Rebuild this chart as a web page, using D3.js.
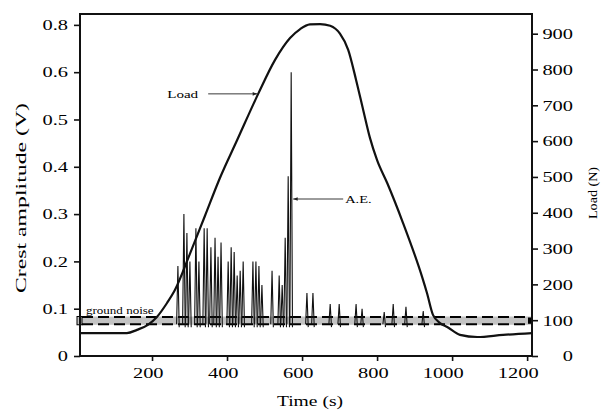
<!DOCTYPE html>
<html>
<head>
<meta charset="utf-8">
<script src="https://cdn.jsdelivr.net/npm/d3@7"></script>
<style>
body { margin: 0; background: #fff; }
svg text { font-family: "Liberation Serif", "Times New Roman", serif; fill: #000; }
</style>
</head>
<body>
<svg id="chart" width="609" height="412"></svg>
<script>
// load curve : time (s) -> load (N)
let loadTime  = [8, 133, 160, 189, 213, 240, 261, 301, 341, 381, 427, 483, 528, 568, 595, 621, 648, 675, 701, 723, 744, 763, 781, 800, 827, 869, 920, 933, 949, 968, 987, 1021, 1067, 1136, 1213]
let loadValue = [64, 64, 73, 87, 109, 148, 184, 285, 391, 497, 603, 732, 827, 888, 913, 926, 927, 922, 900, 855, 771, 687, 609, 547, 483, 372, 221, 176, 115, 92, 81, 59, 53, 59, 64]

// acoustic emission hits : time (s) -> crest amplitude (V)
let aeTime = [269, 285, 293, 301, 317, 325, 339, 347, 357, 368, 376, 384, 403, 411, 419, 427, 435, 443, 469, 477, 485, 493, 520, 539, 547, 555, 563, 571, 613, 629, 675, 699, 744, 760, 819, 843, 877, 923]
let aeAmp  = [0.19, 0.30, 0.26, 0.20, 0.27, 0.20, 0.27, 0.27, 0.23, 0.25, 0.21, 0.24, 0.20, 0.23, 0.22, 0.17, 0.18, 0.20, 0.20, 0.20, 0.19, 0.15, 0.18, 0.17, 0.15, 0.25, 0.38, 0.60, 0.133, 0.133, 0.11, 0.11, 0.11, 0.10, 0.093, 0.11, 0.104, 0.095]

// ground noise band (V)
let noiseBand = [0.066, 0.0835]
let noiseLines = [0.067, 0.0825]

let timeTicks = [200, 400, 600, 800, 1000, 1200]
let ampTicks  = [0, 0.1, 0.2, 0.3, 0.4, 0.5, 0.6, 0.7]
let ampLabels = ['0', '0.1', '0.2', '0.3', '0.4', '0.5', '0.6', '0.8']
let loadTicks = [0, 100, 200, 300, 400, 500, 600, 700, 800, 900]

let plotLeft = 80, plotRight = 532, plotTop = 14, plotBottom = 356

let svg = d3.select('#chart')

let x  = d3.scaleLinear().domain([8, 1213]).range([plotLeft, plotRight])
let yL = d3.scaleLinear().domain([0, 0.723]).range([plotBottom, plotTop])
let yR = d3.scaleLinear().domain([0, 955]).range([plotBottom, plotTop])

// text in the picture is drawn wide, so stretch it along its baseline
let stretch = (sel, k) => {
    sel.each(function () {
        let w = this.getComputedTextLength()
        this.setAttribute('textLength', w * k)
        this.setAttribute('lengthAdjust', 'spacingAndGlyphs')
    })
}

svg.append('defs').append('marker')
    .attr('id', 'arrow')
    .attr('viewBox', '0 0 10 10')
    .attr('refX', 10).attr('refY', 5)
    .attr('markerWidth', 6).attr('markerHeight', 5)
    .attr('orient', 'auto')
    .append('path')
    .attr('d', 'M0,1 L10,5 L0,9 z')
    .attr('fill', '#222')

// ground noise band
svg.append('rect')
    .attr('x', plotLeft - 2)
    .attr('width', plotRight - plotLeft + 1)
    .attr('y', yL(noiseBand[1]))
    .attr('height', yL(noiseBand[0]) - yL(noiseBand[1]))
    .attr('fill', '#c3c3c3')

svg.append('rect')
    .attr('x', plotLeft - 3).attr('width', 5)
    .attr('y', yL(noiseBand[1])).attr('height', yL(noiseBand[0]) - yL(noiseBand[1]))
    .attr('fill', '#c3c3c3').attr('stroke', '#000').attr('stroke-width', 1)

svg.append('rect')
    .attr('x', plotRight - 4).attr('width', 5)
    .attr('y', yL(noiseBand[1]) + 1).attr('height', yL(noiseBand[0]) - yL(noiseBand[1]) - 2)
    .attr('fill', '#000')

svg.selectAll('.noise-line')
    .data(noiseLines)
    .enter()
    .append('line')
    .attr('class', 'noise-line')
    .attr('x1', plotLeft + 2).attr('x2', plotRight - 2)
    .attr('y1', d => yL(d)).attr('y2', d => yL(d))
    .attr('stroke', '#000')
    .attr('stroke-width', 2)
    .attr('stroke-dasharray', '11,5')

// load curve
let loadLine = d3.line()
    .x(d => x(d[0]))
    .y(d => yR(d[1]))
    .curve(d3.curveMonotoneX)

svg.append('path')
    .datum(loadTime.map((t, i) => [t, loadValue[i]]))
    .attr('d', loadLine)
    .attr('fill', 'none')
    .attr('stroke', '#111')
    .attr('stroke-width', 2.2)

// AE spikes
svg.selectAll('.spike')
    .data(aeTime.map((t, i) => [t, aeAmp[i]]))
    .enter()
    .append('path')
    .attr('class', 'spike')
    .attr('d', d => {
        let px = x(d[0])
        return 'M' + (px - 1.3) + ',' + yL(noiseLines[0]) +
               'L' + px + ',' + yL(d[1]) +
               'L' + (px + 1.3) + ',' + yL(0.061)
    })
    .attr('fill', 'none')
    .attr('stroke', '#111')
    .attr('stroke-width', 1.1)

// frame
svg.append('rect')
    .attr('x', plotLeft).attr('y', plotTop)
    .attr('width', plotRight - plotLeft).attr('height', plotBottom - plotTop)
    .attr('fill', 'none')
    .attr('stroke', '#111')
    .attr('stroke-width', 2)

// axes
let leftAxis = svg.append('g')
    .attr('transform', 'translate(' + plotLeft + ',0)')
    .call(d3.axisLeft(yL).tickValues(ampTicks).tickFormat((d, i) => ampLabels[i]).tickSize(6).tickPadding(6))

let rightAxis = svg.append('g')
    .attr('transform', 'translate(' + plotRight + ',0)')
    .call(d3.axisRight(yR).tickValues(loadTicks).tickFormat(d3.format('d')).tickSize(6))

let bottomAxis = svg.append('g')
    .attr('transform', 'translate(0,' + plotBottom + ')')
    .call(d3.axisBottom(x).tickValues(timeTicks).tickFormat(d3.format('d')).tickSize(5))

for (let ax of [leftAxis, rightAxis, bottomAxis]) {
    ax.select('.domain').remove()
    ax.attr('font-family', null).attr('font-size', 15)
    ax.selectAll('line').attr('stroke', '#111').attr('stroke-width', 1.6)
}

rightAxis.selectAll('text').attr('text-anchor', 'end').attr('x', 41)
bottomAxis.selectAll('text').attr('text-anchor', 'end').attr('x', 11).attr('y', 11)

stretch(leftAxis.selectAll('text'), 1.36)
stretch(rightAxis.selectAll('text'), 1.36)
stretch(bottomAxis.selectAll('text'), 1.36)

// axis titles
let yTitle = svg.append('text')
    .attr('transform', 'translate(21,198) rotate(-90)')
    .attr('text-anchor', 'middle')
    .attr('dy', '0.35em')
    .attr('font-size', 14.5)
    .text('Crest amplitude (V)')
yTitle.attr('textLength', 190).attr('lengthAdjust', 'spacingAndGlyphs')

let rTitle = svg.append('text')
    .attr('transform', 'translate(592,193) rotate(-90)')
    .attr('text-anchor', 'middle')
    .attr('dy', '0.35em')
    .attr('font-size', 13.5)
    .text('Load (N)')
rTitle.attr('textLength', 52).attr('lengthAdjust', 'spacingAndGlyphs')

let xTitle = svg.append('text')
    .attr('x', 310).attr('y', 406)
    .attr('text-anchor', 'middle')
    .attr('font-size', 14.5)
    .text('Time (s)')
stretch(xTitle, 1.35)

// annotations
let loadArrowT = 483
let loadAt = loadValue[loadTime.indexOf(loadArrowT)]
svg.append('line')
    .attr('x1', x(loadArrowT) - 50).attr('x2', x(loadArrowT) - 1)
    .attr('y1', yR(loadAt)).attr('y2', yR(loadAt))
    .attr('stroke', '#222').attr('stroke-width', 0.9)
    .attr('marker-end', 'url(#arrow)')
let loadLabel = svg.append('text')
    .attr('x', x(loadArrowT) - 91).attr('y', yR(loadAt) + 4)
    .attr('font-size', 11)
    .text('Load')
stretch(loadLabel, 1.37)

let aeArrowT = 571
svg.append('line')
    .attr('x1', x(aeArrowT) + 52).attr('x2', x(aeArrowT) + 2)
    .attr('y1', 199).attr('y2', 199)
    .attr('stroke', '#222').attr('stroke-width', 0.9)
    .attr('marker-end', 'url(#arrow)')
let aeLabel = svg.append('text')
    .attr('x', x(aeArrowT) + 54).attr('y', 203)
    .attr('font-size', 10.5)
    .text('A.E.')
stretch(aeLabel, 1.37)

let noiseLabel = svg.append('text')
    .attr('x', plotLeft + 6).attr('y', yL(noiseBand[1]) - 3)
    .attr('font-size', 9.5)
    .text('ground noise')
stretch(noiseLabel, 1.37)
</script>
</body>
</html>
